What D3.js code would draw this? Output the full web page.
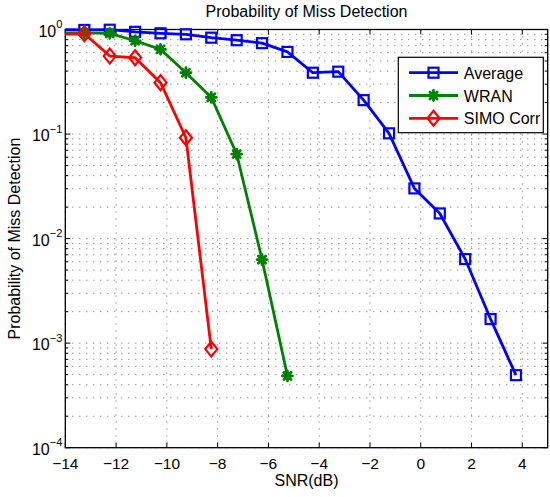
<!DOCTYPE html>
<html>
<head>
<meta charset="utf-8">
<script src="https://cdn.jsdelivr.net/npm/d3@7/dist/d3.min.js"></script>
<style>
  body { margin: 0; background: #fff; }
  svg { display: block; font-family: "Liberation Sans", Arial, sans-serif; }
</style>
</head>
<body>
<svg id="chart" width="550" height="497"></svg>
<script>
// data (SNR in dB, miss-detection probability)
var avgSnr  = [-14.25, -13.25, -12.25, -11.25, -10.25, -9.25, -8.25, -7.25, -6.25, -5.25, -4.25, -3.25, -2.25, -1.25, -0.25, 0.75, 1.75, 2.75, 3.75];
var avgPmd  = [1.0, 0.99, 0.995, 0.95, 0.92, 0.9, 0.835, 0.79, 0.74, 0.61, 0.386, 0.395, 0.211, 0.1016, 0.0302, 0.0174, 0.00637, 0.0017, 0.000494];
var wranSnr = [-14.25, -13.25, -12.25, -11.25, -10.25, -9.25, -8.25, -7.25, -6.25, -5.25];
var wranPmd = [0.93, 0.93, 0.92, 0.78, 0.646, 0.386, 0.224, 0.0644, 0.0063, 0.000486];
var simoSnr = [-14.25, -13.25, -12.25, -11.25, -10.25, -9.25, -8.25];
var simoPmd = [0.9, 0.91, 0.557, 0.537, 0.31, 0.0922, 0.000877];

var xTicks = [-14, -12, -10, -8, -6, -4, -2, 0, 2, 4];
var yDecades = [-4, -3, -2, -1, 0];

var series = [
  { name: "Average",   snr: avgSnr,  pmd: avgPmd,  color: "#0000ff", marker: "square" },
  { name: "WRAN",      snr: wranSnr, pmd: wranPmd, color: "#008000", marker: "star" },
  { name: "SIMO Corr", snr: simoSnr, pmd: simoPmd, color: "#ff0000", marker: "diamond" }
];

(function() {
  var svg = d3.select("#chart");
  var pl = 65.3, pt = 29.5, pr = 547.7, pb = 447.7;
  var w = pr - pl, h = pb - pt;

  var x = d3.scaleLinear().domain([-14, 5]).range([0, w]);
  var y = d3.scaleLog().domain([1e-4, 1]).range([h, 0]);

  var g = svg.append("g").attr("transform", "translate(" + pl + "," + pt + ")");

  // grid: minor + major y, major x
  var yGrid = [];
  yDecades.forEach(function(p) {
    for (var k = 1; k < 10; k++) {
      var v = k * Math.pow(10, p);
      if (v <= 1) yGrid.push({ v: v, major: k === 1 });
    }
  });

  g.append("g").selectAll("line").data(yGrid).enter().append("line")
    .attr("x1", 0).attr("x2", w)
    .attr("y1", function(d) { return y(d.v); })
    .attr("y2", function(d) { return y(d.v); })
    .attr("stroke", "#333").attr("stroke-width", 1)
    .attr("stroke-dasharray", "1,6").attr("opacity", 0.75);

  g.append("g").selectAll("line").data(xTicks.concat([5])).enter().append("line")
    .attr("y1", 0).attr("y2", h)
    .attr("x1", function(d) { return x(d); })
    .attr("x2", function(d) { return x(d); })
    .attr("stroke", "#333").attr("stroke-width", 1)
    .attr("stroke-dasharray", "1,6").attr("opacity", 0.75);

  // ticks (inward, all four sides)
  var ticks = g.append("g").attr("stroke", "#000").attr("stroke-width", 1);
  xTicks.forEach(function(t) {
    ticks.append("line").attr("x1", x(t)).attr("x2", x(t)).attr("y1", h).attr("y2", h - 5);
    ticks.append("line").attr("x1", x(t)).attr("x2", x(t)).attr("y1", 0).attr("y2", 5);
  });
  yGrid.forEach(function(d) {
    var len = d.major ? 5 : 3;
    ticks.append("line").attr("x1", 0).attr("x2", len).attr("y1", y(d.v)).attr("y2", y(d.v));
    ticks.append("line").attr("x1", w).attr("x2", w - len).attr("y1", y(d.v)).attr("y2", y(d.v));
  });

  // box
  g.append("rect").attr("width", w).attr("height", h)
    .attr("fill", "none").attr("stroke", "#000").attr("stroke-width", 1.3);

  // tick labels
  g.append("g").selectAll("text").data(xTicks).enter().append("text")
    .attr("x", function(d) { return x(d); })
    .attr("y", h + 21)
    .attr("text-anchor", "middle")
    .attr("font-size", 15.5)
    .text(function(d) { return d < 0 ? "\u2212" + Math.abs(d) : d; });

  var yl = g.append("g").selectAll("text").data(yDecades).enter().append("text")
    .attr("x", -3)
    .attr("y", function(d) { return y(Math.pow(10, d)) + 7; })
    .attr("text-anchor", "end")
    .attr("font-size", 16);
  yl.append("tspan").text("10");
  yl.append("tspan").attr("dy", -8.5).attr("font-size", 11)
    .text(function(d) { return d < 0 ? "\u2212" + Math.abs(d) : d; });

  // clip for lines
  svg.append("defs").append("clipPath").attr("id", "clip")
    .append("rect").attr("x", 0).attr("y", -20).attr("width", w).attr("height", h + 40);

  var line = d3.line()
    .x(function(d) { return x(d[0]); })
    .y(function(d) { return y(d[1]); });

  function drawMarker(sel, type, color) {
    if (type === "square") {
      sel.append("rect").attr("x", -5).attr("y", -5).attr("width", 10).attr("height", 10)
        .attr("fill", "none").attr("stroke", color).attr("stroke-width", 2.2);
    } else if (type === "diamond") {
      sel.append("path").attr("d", "M0,-7.5L6,0L0,7.5L-6,0Z")
        .attr("fill", "none").attr("stroke", color).attr("stroke-width", 2.2);
    } else {
      sel.append("path").attr("d", "M-5,0H5M0,-5V5M-3.6,-3.6L3.6,3.6M-3.6,3.6L3.6,-3.6")
        .attr("stroke", color).attr("stroke-width", 2.8).attr("stroke-linecap", "round");
      sel.append("circle").attr("r", 2.8).attr("fill", color);
    }
  }

  series.forEach(function(s) {
    var pts = s.snr.map(function(v, i) { return [v, s.pmd[i]]; });
    g.append("path").datum(pts)
      .attr("clip-path", "url(#clip)")
      .attr("d", line)
      .attr("fill", "none")
      .attr("stroke", s.color)
      .attr("stroke-width", 2.8)
      .attr("stroke-linejoin", "round");
    g.append("g").selectAll("g").data(pts.filter(function(p) { return p[0] >= -14; }))
      .enter().append("g")
      .attr("transform", function(d) { return "translate(" + x(d[0]) + "," + y(d[1]) + ")"; })
      .each(function() { drawMarker(d3.select(this), s.marker, s.color); });
  });

  // legend
  var lg = svg.append("g").attr("transform", "translate(398.3,57.3)");
  lg.append("rect").attr("width", 145).attr("height", 75.4)
    .attr("fill", "#fff").attr("stroke", "#000").attr("stroke-width", 1.2);
  series.forEach(function(s, i) {
    var row = lg.append("g").attr("transform", "translate(0," + (15.4 + i * 22.8) + ")");
    row.append("line").attr("x1", 10.7).attr("x2", 59.7)
      .attr("stroke", s.color).attr("stroke-width", 2.8);
    drawMarker(row.append("g").attr("transform", "translate(35.2,0)"), s.marker, s.color);
    row.append("text").attr("x", 65.5).attr("y", 6).attr("font-size", 16).text(s.name);
  });

  // titles
  svg.append("text").attr("x", (pl + pr) / 2).attr("y", 17)
    .attr("text-anchor", "middle").attr("font-size", 16)
    .text("Probability of Miss Detection");
  svg.append("text").attr("x", (pl + pr) / 2).attr("y", 486)
    .attr("text-anchor", "middle").attr("font-size", 16)
    .text("SNR(dB)");
  svg.append("text")
    .attr("transform", "translate(20," + ((pt + pb) / 2) + ") rotate(-90)")
    .attr("text-anchor", "middle").attr("font-size", 16)
    .text("Probability of Miss Detection");
})();
</script>
</body>
</html>
